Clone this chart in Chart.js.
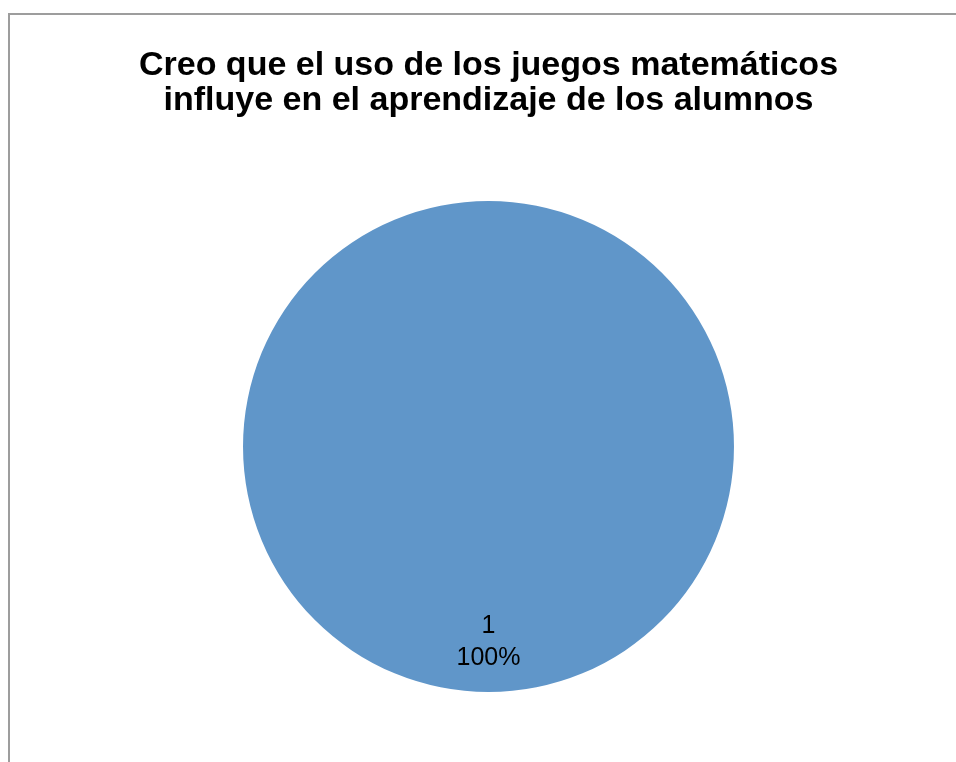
<!DOCTYPE html>
<html>
<head>
<meta charset="utf-8">
<script src="https://cdn.jsdelivr.net/npm/chart.js@4"></script>
<style>
  html, body { margin: 0; padding: 0; background: #fff; }
  canvas { display: block; }
</style>
</head>
<body>
<canvas id="pieChart" width="956" height="762"></canvas>
<script>
const categories = ['1'];
const values = [1];
const titleLines = ['Creo que el uso de los juegos matemáticos', 'influye en el aprendizaje de los alumnos'];

// frame line at top and left, as in the original sheet
const framePlugin = {
  id: 'frame',
  beforeDraw(chart) {
    const ctx = chart.ctx;
    ctx.save();
    ctx.fillStyle = '#ffffff';
    ctx.fillRect(0, 0, chart.width, chart.height);
    ctx.fillStyle = '#9d9d9d';
    ctx.fillRect(8, 13, chart.width - 8, 2);
    ctx.fillRect(8, 13, 2, chart.height - 13);
    ctx.restore();
  }
};

// category name + percent inside each slice
const sliceLabels = {
  id: 'sliceLabels',
  afterDatasetsDraw(chart) {
    const ctx = chart.ctx;
    const meta = chart.getDatasetMeta(0);
    const data = chart.data.datasets[0].data;
    const total = data.reduce((a, b) => a + b, 0);
    ctx.save();
    ctx.font = '25px "Liberation Sans", Arial, sans-serif';
    ctx.fillStyle = '#000';
    ctx.textAlign = 'center';
    ctx.textBaseline = 'middle';
    meta.data.forEach((arc, i) => {
      const p = arc.getProps(['x', 'y', 'startAngle', 'endAngle', 'outerRadius']);
      const mid = (p.startAngle + p.endAngle) / 2;
      const r = p.outerRadius * 0.795;
      let x = p.x + Math.cos(mid) * r;
      let y = p.y + Math.sin(mid) * r;
      if (data.length === 1) { x = p.x; y = p.y + r; }
      const pct = Math.round(data[i] / total * 100) + '%';
      ctx.fillText(chart.data.labels[i], x, y - 16);
      ctx.fillText(pct, x, y + 16);
    });
    ctx.restore();
  }
};

new Chart(document.getElementById('pieChart'), {
  type: 'pie',
  data: {
    labels: categories,
    datasets: [{
      data: values,
      backgroundColor: ['#6096c9'],
      borderWidth: 0
    }]
  },
  options: {
    responsive: false,
    animation: false,
    devicePixelRatio: 1,
    layout: { padding: { left: 21, right: 0, top: 0, bottom: 70 } },
    plugins: {
      legend: { display: false },
      tooltip: { enabled: false },
      title: {
        display: true,
        text: titleLines,
        color: '#000',
        font: { family: '"Liberation Sans", Arial, sans-serif', size: 34, weight: 'bold', lineHeight: 1.03 },
        padding: { top: 48, bottom: 83 }
      }
    }
  },
  plugins: [framePlugin, sliceLabels]
});
</script>
</body>
</html>
